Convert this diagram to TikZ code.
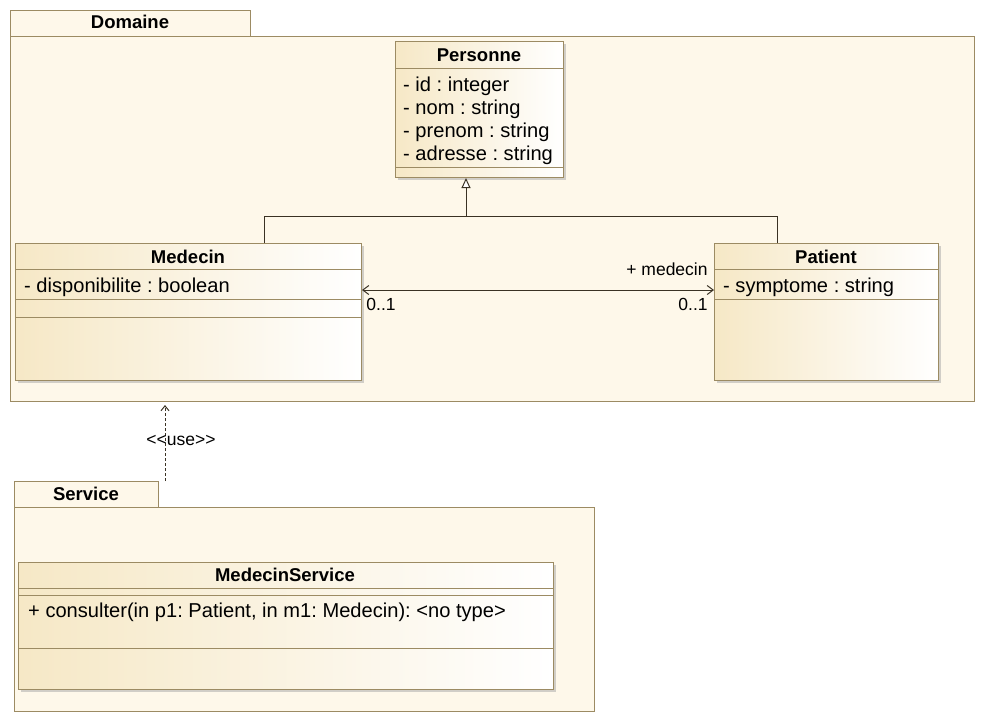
\documentclass[tikz,border=0pt]{standalone}
\usepackage{fontspec}
\setmainfont{Liberation Sans}
\usetikzlibrary{arrows.meta,shadows}
\frenchspacing

\definecolor{umlline}{HTML}{9C8B63}
\definecolor{pkgfill}{HTML}{FEF8EA}
\definecolor{classfill}{HTML}{F6E8C6}
\definecolor{connline}{HTML}{3A3224}

\tikzset{
  pkgbox/.style={draw=umlline, fill=pkgfill, line width=1pt, anchor=north west, inner sep=0pt},
  classbox/.style={draw=umlline, line width=1pt, left color=classfill, right color=white,
    anchor=north west, inner sep=0pt,
    drop shadow={shadow xshift=2pt, shadow yshift=-2pt, fill=black!35, opacity=0.5}},
  compart/.style={draw=umlline, line width=1pt},
  classname/.style={font=\fontsize{18.5}{22}\selectfont\bfseries, anchor=base, inner sep=0pt},
  member/.style={font=\fontsize{20.1}{23}\selectfont, anchor=base west, inner sep=0pt},
  rolelabel/.style={font=\fontsize{17.5}{21}\selectfont, anchor=base, inner sep=0pt},
  conn/.style={draw=connline, line width=1pt},
}

\begin{document}
\begin{tikzpicture}[x=1pt, y=-1pt, line cap=butt, line join=miter]
  \useasboundingbox (0,0) rectangle (985,721);

  % packages
  \node[pkgbox, minimum width=240pt, minimum height=26pt] (domtab) at (10,10) {};
  \node[pkgbox, minimum width=964pt, minimum height=365pt] (domaine) at (10,36) {};
  \node[classname] at (130,28) {Domaine};

  \node[pkgbox, minimum width=144pt, minimum height=26pt] (srvtab) at (14,481) {};
  \node[pkgbox, minimum width=580pt, minimum height=204pt] (service) at (14,507) {};
  \node[classname] at (86,500) {Service};

  % classes
  \node[classbox, minimum width=168pt, minimum height=136pt] (personne) at (395,41) {};
  \node[classname] at (479,61) {Personne};
  \draw[compart] (personne.west |- 0,68) -- (personne.east |- 0,68);
  \draw[compart] (personne.west |- 0,167) -- (personne.east |- 0,167);
  \foreach \attr [count=\i] in {- id : integer, - nom : string, - prenom : string, - adresse : string}
    \node[member] at (403,68+23*\i) {\attr};

  \node[classbox, minimum width=346pt, minimum height=137pt] (medecin) at (15,243) {};
  \node[classname] at (188,263) {Medecin};
  \draw[compart] (medecin.west |- 0,269) -- (medecin.east |- 0,269);
  \draw[compart] (medecin.west |- 0,299) -- (medecin.east |- 0,299);
  \draw[compart] (medecin.west |- 0,317) -- (medecin.east |- 0,317);
  \node[member] at (24,292) {- disponibilite : boolean};

  \node[classbox, minimum width=224pt, minimum height=137pt] (patient) at (714,243) {};
  \node[classname] at (826,263) {Patient};
  \draw[compart] (patient.west |- 0,269) -- (patient.east |- 0,269);
  \draw[compart] (patient.west |- 0,299) -- (patient.east |- 0,299);
  \node[member] at (723,292) {- symptome : string};

  \node[classbox, minimum width=535pt, minimum height=127pt] (medserv) at (18,562) {};
  \node[classname] at (285,581) {MedecinService};
  \draw[compart] (medserv.west |- 0,588) -- (medserv.east |- 0,588);
  \draw[compart] (medserv.west |- 0,595) -- (medserv.east |- 0,595);
  \draw[compart] (medserv.west |- 0,648) -- (medserv.east |- 0,648);
  \node[member] at (28,617) {+ consulter(in p1: Patient, in m1: Medecin): <no type>};

  % generalisation
  \coordinate (gleft) at (264,216);
  \coordinate (gmid) at (466,216);
  \coordinate (gright) at (777,216);
  \draw[conn] (medecin.north -| gleft) -- (gleft) -- (gright) -- (patient.north -| gright);
  \draw[conn, -{Triangle[open, fill=white, length=10pt, width=9pt]}] (gmid) -- (personne.south -| gmid);

  % association
  \coordinate (assoc) at (0,290);
  \draw[conn, {Straight Barb[length=6pt, width=9pt]}-{Straight Barb[length=6pt, width=9pt]}]
    (medecin.east |- assoc) -- (patient.west |- assoc);
  \node[rolelabel] at (667,275) {+ medecin};
  \node[rolelabel] at (381,310) {0..1};
  \node[rolelabel] at (693,310) {0..1};

  % dependency
  \coordinate (usex) at (165,0);
  \draw[conn, dash pattern=on 3pt off 2pt, -{Straight Barb[length=5pt, width=8pt]}]
    (srvtab.north -| usex) -- ([yshift=-3pt]domaine.south -| usex);
  \node[rolelabel] at (181,445) {<\kern0pt<use>\kern0pt>};
\end{tikzpicture}
\end{document}
